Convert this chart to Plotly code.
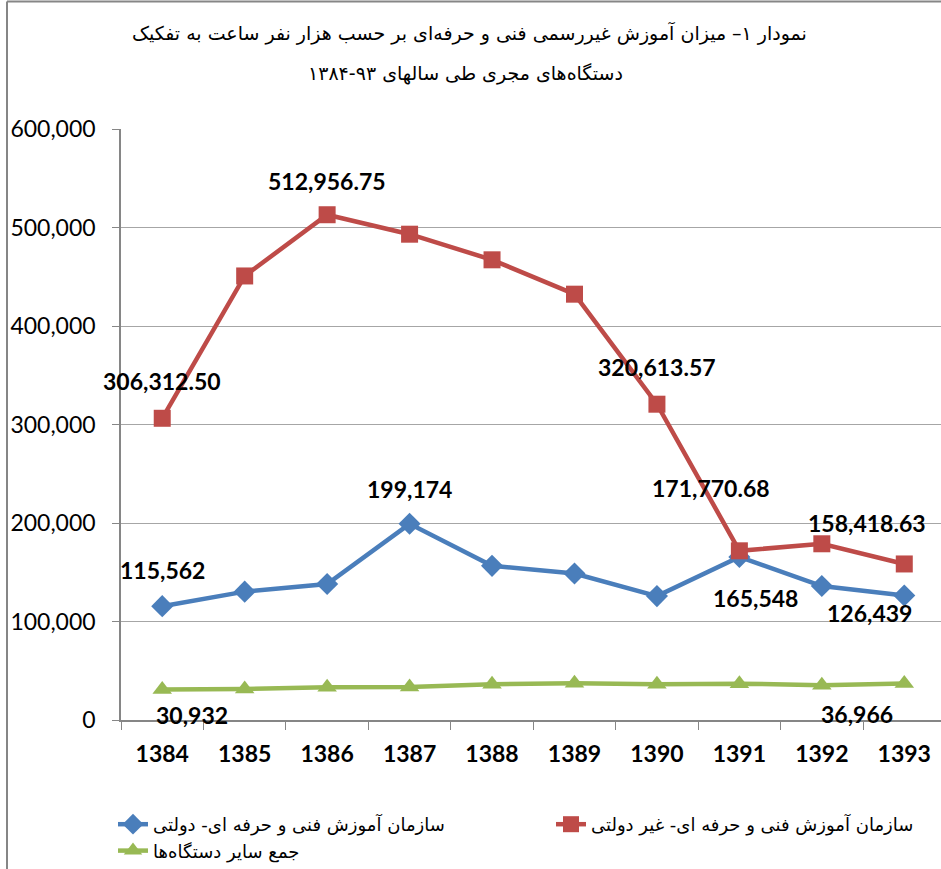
import plotly.graph_objects as go

years = ["1384", "1385", "1386", "1387", "1388", "1389", "1390", "1391", "1392", "1393"]
gov = [115562, 130300, 138000, 199174, 156500, 148700, 125800, 165548, 136000, 126439]
nongov = [306312.50, 450800, 512956.75, 493200, 467200, 432300, 320613.57, 171770.68, 178900, 158418.63]
others = [30932, 31400, 33200, 33600, 36300, 37200, 36300, 36900, 35400, 36966]

name_gov = "سازمان آموزش فنی و حرفه ای- دولتی"
name_nongov = "سازمان آموزش فنی و حرفه ای- غیر دولتی"
name_others = "جمع سایر دستگاه‌ها"
title_l1 = "نمودار ۱– میزان آموزش غیررسمی فنی و حرفه‌ای بر حسب هزار نفر ساعت به تفکیک"
title_l2 = "دستگاه‌های مجری طی سالهای ۹۳-۱۳۸۴"

# labelled points: (series, index, text, xshift, yshift)
labels = [
    ("nongov", 0, "306,312.50", 0, 37),
    ("nongov", 2, "512,956.75", 0, 34),
    ("nongov", 6, "320,613.57", 0, 37),
    ("nongov", 7, "171,770.68", -28, 63),
    ("nongov", 9, "158,418.63", -37, 41),
    ("gov", 0, "115,562", 0, 36),
    ("gov", 3, "199,174", 0, 35),
    ("gov", 7, "165,548", 16, -41),
    ("gov", 9, "126,439", -35, -18),
    ("others", 0, "30,932", 30, -25),
    ("others", 9, "36,966", -47, -30),
]

BLUE = "#4a7ebb"
RED = "#be4b48"
GREEN = "#98b954"
AXC = "#868686"
NUMFONT = "Lato, Liberation Sans, Arial, sans-serif"
ARFONT = "DejaVu Sans, sans-serif"

fig = go.Figure()
fig.add_trace(go.Scatter(x=years, y=gov, name=name_gov, mode="lines+markers",
                         line=dict(color=BLUE, width=4.5),
                         marker=dict(symbol="diamond", size=17, color=BLUE)))
fig.add_trace(go.Scatter(x=years, y=nongov, name=name_nongov, mode="lines+markers",
                         line=dict(color=RED, width=4.5),
                         marker=dict(symbol="square", size=17, color=RED)))
fig.add_trace(go.Scatter(x=years, y=others, name=name_others, mode="lines+markers",
                         line=dict(color=GREEN, width=4.5),
                         marker=dict(symbol="triangle-up", size=17, color=GREEN)))

series = {"gov": gov, "nongov": nongov, "others": others}
for key, i, txt, xs, ys in labels:
    fig.add_annotation(x=i, y=series[key][i], xref="x", yref="y",
                       text="<b>" + txt + "</b>",
                       showarrow=False, xshift=xs, yshift=ys,
                       xanchor="center", yanchor="middle",
                       font=dict(family=NUMFONT, size=23, color="black"))

L, W = 121, 941
T, B = 129, 149
pw = W - L
ph = 869 - T - B
fig.add_annotation(xref="paper", yref="paper", x=(469 - L) / pw, y=1,
                   yshift=T - 33, yanchor="middle", showarrow=False,
                   text=title_l1, font=dict(family=ARFONT, size=19, color="black"))
fig.add_annotation(xref="paper", yref="paper", x=(465 - L) / pw, y=1,
                   yshift=T - 73, yanchor="middle", showarrow=False,
                   text=title_l2, font=dict(family=ARFONT, size=19, color="black"))

# outer chart frame (left and top borders)
fig.add_shape(type="line", xref="paper", yref="paper",
              x0=(7 - L) / pw, x1=(7 - L) / pw, y0=-B / ph, y1=1 + (T - 1.5) / ph,
              line=dict(color=AXC, width=2))
fig.add_shape(type="line", xref="paper", yref="paper",
              x0=(7 - L) / pw, x1=1, y0=1 + (T - 1.5) / ph, y1=1 + (T - 1.5) / ph,
              line=dict(color=AXC, width=2))

fig.update_layout(
    width=941, height=869,
    margin=dict(l=L, r=0, t=T, b=B, autoexpand=False),
    paper_bgcolor="white", plot_bgcolor="white",
    showlegend=True,
    legend=dict(orientation="h", x=(113 - L) / pw, xanchor="left",
                y=-86 / ph, yanchor="top",
                entrywidth=393, entrywidthmode="pixels",
                font=dict(family=ARFONT, size=18, color="black"),
                traceorder="normal"),
    xaxis=dict(type="category", range=[-0.5, -0.5 + pw / 82.45],
               showline=True, linecolor=AXC, linewidth=1.5,
               ticks="outside", ticklen=8, tickcolor=AXC, tickson="boundaries",
               showgrid=False,
               tickfont=dict(family=NUMFONT, size=23, color="black", weight="bold"),
               ticklabelstandoff=13),
    yaxis=dict(range=[0, 600000], dtick=100000, tickformat=",d",
               showline=True, linecolor=AXC, linewidth=1.5,
               ticks="outside", ticklen=7, tickcolor=AXC,
               showgrid=True, gridcolor="#a6a6a6", gridwidth=1.2,
               zeroline=False,
               tickfont=dict(family=NUMFONT, size=23, color="black"),
               ticklabelstandoff=12),
)

fig.write_html("out.html", config={"displayModeBar": False},
               post_script="document.body.style.margin='0';")
